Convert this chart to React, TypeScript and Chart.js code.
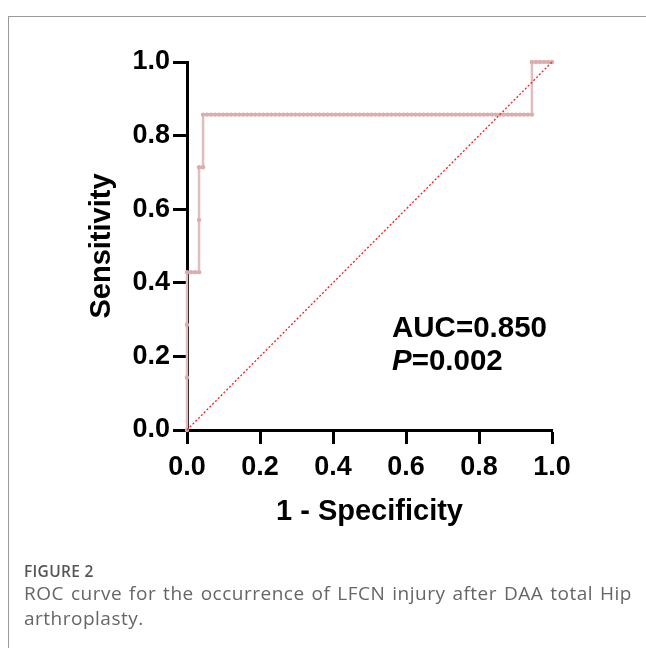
import React, { useEffect, useRef } from "react";
import { Chart, registerables } from "chart.js";

Chart.register(...registerables);

// ROC curve points: [1 - specificity, sensitivity]
const rocPoints: [number, number][] = [
  [0, 0], [0, 0.143], [0, 0.286], [0, 0.429],
  [0.011, 0.429], [0.022, 0.429], [0.033, 0.429],
  [0.033, 0.571], [0.033, 0.714],
  [0.044, 0.714], [0.044, 0.857],
  [0.055, 0.857], [0.066, 0.857], [0.077, 0.857], [0.088, 0.857], [0.099, 0.857],
  [0.110, 0.857], [0.121, 0.857], [0.132, 0.857], [0.143, 0.857], [0.154, 0.857],
  [0.165, 0.857], [0.176, 0.857], [0.187, 0.857], [0.198, 0.857], [0.209, 0.857],
  [0.220, 0.857], [0.231, 0.857], [0.242, 0.857], [0.253, 0.857], [0.264, 0.857],
  [0.275, 0.857], [0.286, 0.857], [0.297, 0.857], [0.308, 0.857], [0.319, 0.857],
  [0.330, 0.857], [0.341, 0.857], [0.352, 0.857], [0.363, 0.857], [0.374, 0.857],
  [0.385, 0.857], [0.396, 0.857], [0.407, 0.857], [0.418, 0.857], [0.429, 0.857],
  [0.440, 0.857], [0.451, 0.857], [0.462, 0.857], [0.473, 0.857], [0.484, 0.857],
  [0.495, 0.857], [0.505, 0.857], [0.516, 0.857], [0.527, 0.857], [0.538, 0.857],
  [0.549, 0.857], [0.560, 0.857], [0.571, 0.857], [0.582, 0.857], [0.593, 0.857],
  [0.604, 0.857], [0.615, 0.857], [0.626, 0.857], [0.637, 0.857], [0.648, 0.857],
  [0.659, 0.857], [0.670, 0.857], [0.681, 0.857], [0.692, 0.857], [0.703, 0.857],
  [0.714, 0.857], [0.725, 0.857], [0.736, 0.857], [0.747, 0.857], [0.758, 0.857],
  [0.769, 0.857], [0.780, 0.857], [0.791, 0.857], [0.802, 0.857], [0.813, 0.857],
  [0.824, 0.857], [0.835, 0.857], [0.846, 0.857], [0.857, 0.857], [0.868, 0.857],
  [0.879, 0.857], [0.890, 0.857], [0.901, 0.857], [0.912, 0.857], [0.923, 0.857],
  [0.934, 0.857], [0.945, 0.857],
  [0.945, 1.0], [0.956, 1.0], [0.967, 1.0], [0.978, 1.0], [0.989, 1.0], [1.0, 1.0],
];

// Reference (chance) line
const diagonalPoints: [number, number][] = [
  [0, 0],
  [1, 1],
];

const axisTicks = [0, 0.2, 0.4, 0.6, 0.8, 1.0];
const xTitle = "1 - Specificity";
const yTitle = "Sensitivity";
const aucLabel = "AUC=0.850";
const pLabelValue = "=0.002";
const figureLabel = "FIGURE 2";
const captionText =
  "ROC curve for the occurrence of LFCN injury after DAA total Hip arthroplasty.";

const FONT = "'Liberation Sans', Arial, sans-serif";

export default function App() {
  const canvasRef = useRef<HTMLCanvasElement | null>(null);

  useEffect(() => {
    const canvas = canvasRef.current;
    if (!canvas) return;
    const tickFont = { family: FONT, size: 27, weight: "bold" as const };
    const titleFont = { family: FONT, size: 29, weight: "bold" as const };
    const chart = new Chart(canvas, {
      type: "scatter",
      data: {
        datasets: [
          {
            label: "Reference",
            data: diagonalPoints.map(([x, y]) => ({ x, y })),
            showLine: true,
            borderColor: "#FF1A1A",
            borderWidth: 1.3,
            borderDash: [2, 2],
            pointRadius: 0,
            clip: false as any,
          },
          {
            label: "ROC",
            data: rocPoints.map(([x, y]) => ({ x, y })),
            showLine: true,
            borderColor: "#E2BDBD",
            borderWidth: 2.5,
            pointRadius: 2.2,
            pointBackgroundColor: "#DBADAD",
            pointBorderWidth: 0,
            clip: false as any,
          },
        ],
      },
      options: {
        responsive: false,
        animation: false,
        devicePixelRatio: 1,
        layout: { padding: { left: 0, top: 62, right: 94, bottom: 0 } },
        plugins: {
          legend: { display: false },
          tooltip: { enabled: false },
        },
        scales: {
          x: {
            type: "linear",
            min: 0,
            max: 1,
            afterBuildTicks: (s: any) => {
              s.ticks = axisTicks.map((v) => ({ value: v }));
            },
            afterFit: (s: any) => {
              s.height = 110;
            },
            ticks: {
              font: tickFont,
              color: "#000",
              padding: 7,
              maxRotation: 0,
              callback: (v: any) => Number(v).toFixed(1),
            },
            grid: {
              drawOnChartArea: false,
              drawTicks: true,
              tickLength: 14,
              tickWidth: 3,
              color: "#000",
            },
            border: { display: true, width: 3, color: "#000" },
            title: {
              display: true,
              text: xTitle,
              font: titleFont,
              color: "#000",
              padding: { top: 0, bottom: 11 },
            },
          },
          y: {
            type: "linear",
            min: 0,
            max: 1,
            afterBuildTicks: (s: any) => {
              s.ticks = axisTicks.map((v) => ({ value: v }));
            },
            afterFit: (s: any) => {
              s.width = 187;
            },
            ticks: {
              font: tickFont,
              color: "#000",
              padding: 3,
              callback: (v: any) => Number(v).toFixed(1),
            },
            grid: {
              drawOnChartArea: false,
              drawTicks: true,
              tickLength: 14,
              tickWidth: 3,
              color: "#000",
            },
            border: { display: true, width: 3, color: "#000" },
            title: {
              display: true,
              text: yTitle,
              font: titleFont,
              color: "#000",
              padding: { top: 85, bottom: 0 },
            },
          },
        },
      },
    });
    return () => chart.destroy();
  }, []);

  return (
    <div style={{ position: "relative", width: 646, height: 640 }}>
      <div
        style={{
          position: "fixed",
          left: 8,
          top: 16,
          width: 700,
          height: 700,
          borderTop: "1px solid #9a9a9a",
          borderLeft: "1px solid #9a9a9a",
          boxSizing: "border-box",
        }}
      />
      <canvas
        ref={canvasRef}
        width={646}
        height={540}
        style={{ position: "fixed", left: 0, top: 0, width: 646, height: 540 }}
      />
      <div
        style={{
          position: "fixed",
          left: 392,
          top: 310,
          fontFamily: FONT,
          fontWeight: "bold",
          fontSize: 29.5,
          lineHeight: "33px",
          color: "#000",
        }}
      >
        <div>{aucLabel}</div>
        <div>
          <i>P</i>
          {pLabelValue}
        </div>
      </div>
      <div
        style={{
          position: "fixed",
          left: 24,
          top: 561,
          fontFamily: "'Open Sans', 'Noto Sans', sans-serif",
          fontSize: 15.5,
          fontWeight: 600,
          lineHeight: "20px",
          color: "#555",
          letterSpacing: "0.3px",
        }}
      >
        {figureLabel}
      </div>
      <div
        style={{
          position: "fixed",
          left: 24,
          top: 581,
          width: 608,
          fontFamily: "'Open Sans', 'Noto Sans', sans-serif",
          fontSize: 19,
          lineHeight: "25px",
          color: "#666",
          textAlign: "justify",
          letterSpacing: "0.5px",
        }}
      >
        {captionText}
      </div>
    </div>
  );
}
